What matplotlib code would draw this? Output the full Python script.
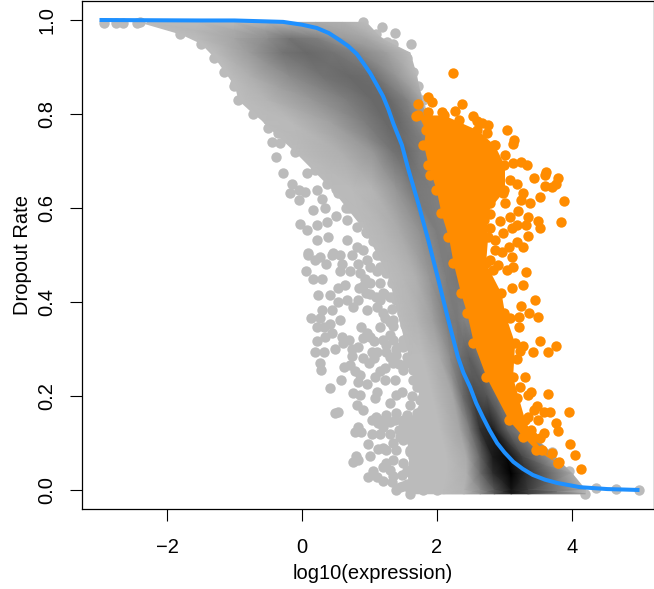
import matplotlib
matplotlib.use("Agg")
import matplotlib.pyplot as plt
import numpy as np

plt.rcParams['font.family'] = ['Liberation Sans', 'DejaVu Sans']

GREY = '#BBBBBB'
ORANGE = '#FF8C00'
BLUE = '#1E90FF'

# fitted curve
curve_x = [-3, -1.5, -1.0, -0.28, 0.0, 0.22, 0.4, 0.56, 0.68, 0.81, 0.91, 1.01, 1.1, 1.2, 1.28, 1.35, 1.48, 1.57,
           1.72, 1.87, 2.01, 2.16, 2.31, 2.39, 2.49, 2.58, 2.68, 2.78, 2.89, 3.0, 3.13, 3.27, 3.42, 3.6, 3.78, 4.12, 4.52, 5.0]
curve_y = [1.0, 0.999, 0.999, 0.996, 0.99, 0.983, 0.972, 0.957, 0.945, 0.928, 0.908, 0.887, 0.864, 0.838, 0.81, 0.781,
           0.734, 0.685, 0.611, 0.532, 0.453, 0.366, 0.283, 0.25, 0.219, 0.185, 0.155, 0.127, 0.10, 0.08, 0.06, 0.045, 0.032, 0.022, 0.015, 0.006, 0.002, 0.0]

# sparse grey genes, left of the main cloud
grey_pts = [
    (-2.94, .993), (-2.75, .993), (-2.65, .993), (-2.45, .993), (1.18, .985), (1.38, .972), (1.26, .953), (1.61, .949),
    (-.99, .865), (-.85, .844), (-.70, .812), (-.72, .833), (-.52, .794), (-.50, .77), (-.45, .74),
    (-.33, .738), (-.38, .709), (-.28, .674), (-.15, .652), (-.18, .631), (-.05, .617), (.04, .635),
    (-.05, .638), (.22, .638), (.37, .652), (.54, .631), (.17, .596), (.34, .6), (.51, .582), (.66, .575),
    (-.03, .567), (.07, .553), (.22, .564), (.37, .571), (.22, .532), (.39, .539), (.09, .504), (.27, .496),
    (.46, .504), (.66, .532), (.81, .56), (.81, .518), (.96, .546), (-.18, .759), (-.08, .738), (.17, .709),
    (.27, .688), (.46, .702), (.61, .674), (-.13, .773), (.02, .773), (.17, .759), (.37, .745), (.07, .674),
    (.37, .681), (.56, .66), (.76, .617),
    (.09, .50), (.19, .49), (.06, .465), (.17, .45), (.29, .45), (.35, .48), (.44, .50), (.56, .50),
    (.74, .50), (.83, .48), (.56, .465), (.71, .465), (.96, .49), (1.11, .50), (1.11, .465), (.93, .45),
    (1.01, .44), (1.16, .44), (1.33, .44), (1.50, .434), (.64, .436), (.54, .43), (.23, .415), (.41, .415),
    (.54, .40), (.66, .404), (.83, .404), (.76, .39), (.96, .384), (1.11, .39), (1.20, .376), (1.33, .386),
    (1.48, .376), (.29, .384), (.45, .384), (.14, .367), (.27, .365), (.57, .362), (.41, .353), (.32, .347),
    (.22, .346), (.88, .346), (1.16, .347), (1.30, .358), (1.53, .351), (.44, .333), (.34, .325), (.22, .316),
    (.59, .325), (.69, .32), (.91, .323), (1.30, .33), (1.55, .325), (1.06, .316), (.61, .312), (.49, .301),
    (.74, .301), (.83, .305), (1.25, .309), (1.43, .305), (.19, .294), (.32, .294), (.74, .285), (1.03, .294),
    (1.11, .294), (1.06, .28), (1.25, .294), (1.40, .287), (1.65, .291), (.26, .27), (.28, .255), (.62, .262),
    (.71, .266), (.79, .254), (1.23, .259), (1.16, .254), (1.43, .268), (1.55, .27), (.86, .245), (.83, .23),
    (.96, .225), (1.08, .24), (1.23, .234), (1.38, .234), (1.65, .255), (.58, .233), (.42, .218), (.76, .207),
    (.86, .202), (1.11, .209), (1.08, .195), (1.48, .209), (1.40, .202), (1.63, .199), (1.31, .186), (1.60, .181),
    (.81, .181), (.91, .17), (.54, .165), (.49, .163), (1.03, .149), (1.13, .142), (1.38, .149), (1.65, .149),
    (.83, .135), (.79, .124), (.88, .124), (1.03, .12), (1.30, .12), (1.43, .128), (1.57, .135), (1.75, .135),
    (.98, .098), (1.13, .087), (1.25, .085), (1.40, .085), (1.60, .085), (1.80, .092), (1.01, .072), (.80, .072),
    (.75, .059), (.83, .064), (1.20, .05), (1.35, .064), (1.50, .057), (1.70, .053), (1.90, .057), (.98, .028),
    (1.11, .028), (1.30, .042), (1.48, .032), (1.65, .023), (1.87, .039), (1.33, .016), (1.45, .007), (1.40, 0),
    (1.60, 0), (1.80, 0), (2.0, 0), (1.45, .113), (1.65, .113), (1.5, .106), (1.2, .135), (1.5, .149), (1.4, .163),
    (1.25, .057), (1.65, .07),
    (1.1, .155), (1.25, .16), (1.55, .16), (1.3, .145), (1.5, .13), (1.15, .12), (1.65, .125), (1.2, .09), (1.35, .1),
    (1.05, .04), (1.2, .02), (1.35, .03), (1.55, .04), (1.5, .008), (1.55, .012), (1.7, .008), (1.35, .27), (1.5, .255),
    (1.4, .3), (1.5, .32), (1.35, .35), (1.45, .4), (1.35, .41), (1.2, .42), (1.1, .41), (1.25, .47), (1.4, .47),
    (1.25, .5), (.95, .42), (.85, .43), (.9, .28), (1.0, .27), (.6, .48), (.9, .51), (1.05, .53), (1.15, .56),
    (.65, .6), (.85, .62), (.3, .62), (.5, .66), (.8, .68),
    (1.16, .475), (1.25, .461), (1.01, .475), (.86, .461), (1.21, .418), (1.30, .411), (1.01, .418), (.91, .433),
    (1.16, .404), (1.40, .404), (1.35, .362), (1.23, .365), (.96, .333), (1.01, .326), (1.20, .319), (1.35, .319),
    (1.50, .305), (1.30, .284), (1.55, .284), (1.70, .277), (1.2, .149), (1.5, .142), (1.7, .163), (1.75, .191),
    (1.7, .22), (1.85, .227), (1.65, .234),
    (3.95, .008), (4.35, .004), (4.65, .002), (5.0, 0),
]

# sparse orange genes, right of the orange body
orange_pts = [
    (2.23, .888), (1.86, .837), (1.72, .821), (1.92, .826), (2.37, .821), (1.69, .796), (2.07, .805), (2.27, .806),
    (1.86, .805), (2.53, .796), (2.59, .786), (2.66, .781), (2.75, .776), (2.32, .787), (3.03, .767), (3.14, .745),
    (3.12, .736), (2.74, .759), (2.86, .734), (3.01, .713), (3.13, .695), (3.24, .698), (3.33, .691), (3.43, .663),
    (3.60, .67), (3.62, .677), (3.79, .663), (3.76, .652), (3.70, .645), (3.60, .647), (3.28, .631), (3.52, .624),
    (3.88, .615), (3.25, .617), (3.38, .61), (3.01, .61), (3.20, .594), (3.08, .58), (3.35, .58), (3.50, .572),
    (2.93, .572), (3.83, .571), (3.32, .564), (3.53, .557), (3.18, .564), (3.11, .557), (2.79, .557), (2.98, .546),
    (3.35, .541), (3.19, .527), (2.86, .532), (3.28, .518), (3.06, .518), (2.96, .507), (3.11, .496), (2.86, .51),
    (2.91, .479), (3.13, .474), (3.03, .468), (3.32, .464), (2.83, .468), (2.79, .489), (1.90, .67), (3.08, .659),
    (2.88, .652), (2.79, .61), (2.79, .588), (2.98, .631), (3.18, .652), (2.69, .574), (2.74, .681), (2.54, .688),
    (3.11, .429), (3.28, .436), (3.45, .404), (3.24, .392), (3.37, .376), (3.50, .368), (3.08, .365), (3.21, .368),
    (3.22, .346), (3.52, .316), (3.77, .307), (3.28, .307), (3.42, .293), (3.64, .293), (3.23, .295), (3.18, .278),
    (3.30, .24), (3.23, .219), (3.40, .209), (3.35, .202), (3.65, .204), (3.18, .195), (3.48, .179), (3.43, .17),
    (3.95, .165), (3.67, .165), (3.58, .167), (3.50, .15), (3.76, .142), (3.79, .126), (3.59, .121), (3.53, .11),
    (3.97, .097), (4.04, .074), (4.14, .044), (3.81, .059), (3.70, .078), (3.35, .156), (3.40, .128),
]

# dense orange body: edges per dropout level
body_y = [.798, .766, .734, .691, .638, .589, .538, .483, .419, .377, .313, .24, .149, .113, .085, .057]
body_left = [1.72, 1.83, 1.80, 1.87, 1.99, 2.06, 2.17, 2.24, 2.35, 2.44, 2.54, 2.73, 3.06, 3.28, 3.47, 3.79]
body_right = [2.1, 2.6, 2.85, 3.0, 3.0, 2.72, 2.75, 2.72, 2.95, 3.0, 3.15, 3.12, 3.3, 3.42, 3.55, 3.79]

# outline of the continuous grey cloud
cloud_y = [.995, .97, .95, .92, .89, .86, .83, .80, .76, .72, .68, .64, .60, .55, .50, .45, .40, .35, .30, .25, .20, .15, .12, .08, .04, -.008]
cloud_left = [-2.4, -1.8, -1.5, -1.3, -1.15, -1.0, -.95, -.72, -.35, -.1, .2, .5, .7, .95, 1.15, 1.35, 1.5, 1.6, 1.65, 1.7, 1.8, 1.6, 1.5, 1.6, 1.55, 1.6]
cloud_right = [.9, 1.1, 1.35, 1.55, 1.65, 1.72, 1.8, 1.85, 1.95, 2.0, 2.05, 2.1, 2.2, 2.3, 2.4, 2.5, 2.6, 2.7, 2.8, 2.95, 3.1, 3.25, 3.4, 3.7, 3.95, 4.2]

# density shading inside the cloud: per dropout level, x stops and grey value at each stop
shade_y = [.995, .96, .93, .88, .83, .78, .72, .64, .55, .45, .36, .28, .2, .13, .07, .035, .0, -.008]
shade_x = [
    [-2.3, -1.5, -1.0, -.5, -.2, .2, .6, .95],
    [-1.55, -1.0, -.5, -.18, .22, .62, .96, 1.18],
    [-1.28, -.77, -.28, .07, .46, .8, 1.26, 1.6],
    [-1.04, -.77, -.18, .31, .71, 1.05, 1.4, 1.7],
    [-.85, -.52, .16, .67, 1.05, 1.3, 1.55, 1.77],
    [-.55, -.13, .46, .96, 1.26, 1.45, 1.65, 1.85],
    [-.1, .56, 1.05, 1.35, 1.55, 1.75, 1.9, 2.0],
    [.45, .75, 1.05, 1.4, 1.65, 1.9, 2.05, 2.2],
    [.95, 1.2, 1.45, 1.75, 2.0, 2.15, 2.25, 2.35],
    [1.3, 1.5, 1.7, 1.9, 2.15, 2.3, 2.4, 2.5],
    [1.45, 1.7, 1.94, 2.15, 2.3, 2.4, 2.5, 2.6],
    [1.6, 1.8, 2.05, 2.2, 2.34, 2.49, 2.6, 2.85],
    [1.75, 1.94, 2.24, 2.38, 2.53, 2.74, 2.89, 3.05],
    [1.85, 2.05, 2.34, 2.49, 2.64, 2.83, 3.04, 3.3],
    [1.95, 2.15, 2.44, 2.64, 2.83, 3.04, 3.27, 3.75],
    [2.0, 2.15, 2.44, 2.64, 2.83, 3.1, 3.3, 4.0],
    [2.0, 2.1, 2.4, 2.64, 2.85, 3.1, 3.35, 4.2],
    [2.0, 2.1, 2.4, 2.64, 2.85, 3.1, 3.35, 4.2],
]
shade_grey = [
    [187, 187, 185, 180, 172, 170, 175, 187],
    [187, 165, 140, 115, 125, 155, 165, 180],
    [187, 155, 115, 105, 115, 130, 160, 187],
    [187, 175, 140, 115, 105, 110, 150, 183],
    [187, 180, 150, 125, 105, 105, 130, 165],
    [187, 185, 160, 125, 105, 105, 125, 150],
    [187, 175, 150, 115, 105, 125, 130, 135],
    [187, 186, 180, 150, 120, 125, 130, 135],
    [187, 182, 170, 145, 125, 130, 130, 130],
    [187, 183, 175, 150, 125, 120, 122, 125],
    [187, 180, 160, 125, 120, 130, 130, 130],
    [187, 187, 170, 140, 110, 95, 110, 120],
    [187, 187, 165, 110, 70, 85, 115, 125],
    [187, 187, 165, 120, 50, 30, 100, 135],
    [187, 187, 170, 100, 25, 8, 70, 165],
    [187, 187, 175, 110, 45, 0, 40, 170],
    [187, 187, 180, 140, 85, 20, 60, 180],
    [187, 187, 180, 140, 85, 20, 60, 180],
]

xticks = [-2, 0, 2, 4]
yticks = [0.0, 0.2, 0.4, 0.6, 0.8, 1.0]

fig = plt.figure(figsize=(6.54, 5.89), dpi=100)
ax = fig.add_axes([82 / 654, 80 / 589, 572 / 654, 508 / 589])

dot = 56
ax.scatter(*zip(*grey_pts), s=dot, color=GREY, linewidths=0, zorder=2)

ax.fill_betweenx(cloud_y, cloud_left, cloud_right, color=GREY, linewidth=0, zorder=3)
ax.scatter(cloud_left, cloud_y, s=dot, color=GREY, linewidths=0, zorder=3)
ax.scatter(cloud_right, cloud_y, s=dot, color=GREY, linewidths=0, zorder=3)

X = np.array(shade_x)
Y = np.tile(np.array(shade_y)[:, None], (1, X.shape[1]))
ax.pcolormesh(X, Y, np.array(shade_grey), shading='gouraud', cmap='gray', vmin=0, vmax=255, zorder=3.5)

ax.fill_betweenx(body_y, body_left, body_right, color=ORANGE, linewidth=0, zorder=4)
ax.scatter(body_left, body_y, s=dot, color=ORANGE, linewidths=0, zorder=4)
ax.scatter(body_right, body_y, s=dot, color=ORANGE, linewidths=0, zorder=4)
ax.scatter(*zip(*orange_pts), s=dot, color=ORANGE, linewidths=0, zorder=4)

ax.plot(curve_x, curve_y, color=BLUE, lw=2.9, zorder=5, solid_capstyle='butt')

ax.set_xlim(-220 / 67.5, 352 / 67.5)
ax.set_ylim(-19 / 470, 489 / 470)
ax.set_xticks(xticks)
ax.set_xticklabels(['\u2212' + str(-t) if t < 0 else str(t) for t in xticks])
ax.set_yticks(yticks)
ax.set_yticklabels(['%.1f' % t for t in yticks], rotation=90, va='center')
ax.tick_params(length=8.6, width=0.8, labelsize=14.5)
ax.tick_params(axis='x', pad=12)
ax.tick_params(axis='y', pad=10)
ax.set_xlabel('log10(expression)', fontsize=14.5, x=291 / 572, labelpad=5)
ax.set_ylabel('Dropout Rate', fontsize=14.5, labelpad=3.5)
for s in ax.spines.values():
    s.set_linewidth(0.9)

fig.savefig('out.png', dpi=100)
